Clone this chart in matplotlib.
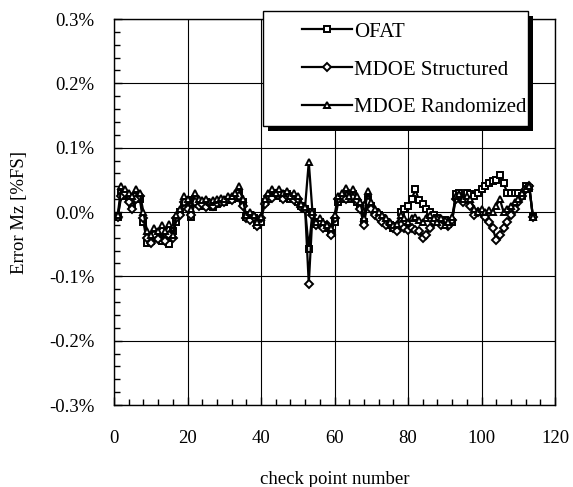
import numpy as np
import matplotlib.pyplot as plt
from matplotlib.patches import Rectangle

plt.rcParams['font.family'] = ['Liberation Serif', 'DejaVu Serif']

# error at each check point, in %FS
check_point = np.arange(1, 115)

ofat = [
    -0.008, 0.030, 0.025, 0.020, 0.010, 0.025, 0.020, -0.015, -0.048, -0.045,
    -0.040, -0.038, -0.045, -0.035, -0.050, -0.030, -0.015, 0.000, 0.010, 0.018,
    -0.008, 0.020, 0.012, 0.010, 0.015, 0.010, 0.008, 0.012, 0.015, 0.016,
    0.018, 0.020, 0.022, 0.030, 0.015, -0.008, -0.005, -0.010, -0.020, -0.015,
    0.015, 0.020, 0.025, 0.030, 0.025, 0.022, 0.028, 0.020, 0.022, 0.015,
    0.010, 0.005, -0.057, 0.000, -0.018, -0.015, -0.020, -0.025, -0.032, -0.015,
    0.015, 0.020, 0.025, 0.020, 0.028, 0.015, 0.010, -0.015, 0.020, 0.010,
    0.000, -0.005, -0.010, -0.015, -0.020, -0.025, -0.022, 0.000, 0.005, 0.010,
    0.020, 0.035, 0.018, 0.012, 0.005, 0.000, -0.005, -0.010, -0.015, -0.012,
    -0.018, -0.015, 0.028, 0.030, 0.022, 0.030, 0.028, 0.025, 0.030, 0.035,
    0.040, 0.045, 0.048, 0.050, 0.057, 0.045, 0.030, 0.030, 0.030, 0.030,
    0.025, 0.040, 0.038, -0.008,
]

mdoe_structured = [
    -0.008, 0.025, 0.030, 0.015, 0.005, 0.020, 0.025, -0.010, -0.040, -0.048,
    -0.035, -0.042, -0.030, -0.045, -0.035, -0.040, -0.010, -0.005, 0.015, 0.005,
    -0.005, 0.015, 0.010, 0.012, 0.008, 0.012, 0.010, 0.014, 0.016, 0.015,
    0.020, 0.018, 0.025, 0.025, 0.010, -0.010, -0.012, -0.008, -0.022, -0.010,
    0.012, 0.025, 0.022, 0.028, 0.030, 0.020, 0.025, 0.025, 0.018, 0.020,
    0.008, 0.005, -0.112, -0.005, -0.020, -0.018, -0.025, -0.020, -0.035, -0.010,
    0.020, 0.025, 0.020, 0.028, 0.022, 0.018, 0.005, -0.020, 0.015, 0.005,
    -0.005, -0.010, -0.015, -0.020, -0.018, -0.025, -0.030, -0.020, -0.025, -0.028,
    -0.025, -0.028, -0.030, -0.040, -0.035, -0.025, -0.015, -0.012, -0.020, -0.015,
    -0.022, -0.012, 0.020, 0.025, 0.015, 0.020, 0.010, -0.005, 0.000, -0.002,
    -0.008, -0.015, -0.025, -0.043, -0.035, -0.025, -0.015, -0.005, 0.005, 0.015,
    0.025, 0.035, 0.040, -0.008,
]

mdoe_randomized = [
    -0.005, 0.040, 0.035, 0.030, 0.025, 0.036, 0.030, 0.000, -0.030, -0.035,
    -0.025, -0.030, -0.020, -0.030, -0.018, -0.035, -0.005, 0.005, 0.025, 0.020,
    0.005, 0.030, 0.020, 0.018, 0.020, 0.015, 0.018, 0.020, 0.022, 0.020,
    0.025, 0.025, 0.030, 0.040, 0.020, -0.005, 0.000, -0.005, -0.015, -0.008,
    0.020, 0.030, 0.035, 0.030, 0.035, 0.030, 0.033, 0.025, 0.030, 0.025,
    0.012, 0.008, 0.078, 0.000, -0.015, -0.010, -0.015, -0.020, -0.025, -0.005,
    0.025, 0.030, 0.038, 0.025, 0.036, 0.025, 0.015, -0.010, 0.033, 0.015,
    0.005, 0.000, -0.005, -0.010, -0.015, -0.020, -0.018, -0.005, -0.010, -0.015,
    -0.010, -0.008, -0.012, -0.015, -0.010, -0.005, -0.010, -0.015, -0.010, -0.020,
    -0.015, -0.008, 0.025, 0.028, 0.020, 0.025, 0.020, 0.005, 0.000, 0.005,
    0.000, 0.003, 0.000, 0.010, 0.020, 0.000, 0.005, 0.010, 0.015, 0.020,
    0.030, 0.035, 0.040, -0.008,
]

series_names = ['OFAT', 'MDOE Structured', 'MDOE Randomized']
series_markers = ['s', 'D', '^']
series_sizes = [5, 3.6, 4.8]

y_ticks = [-0.3, -0.2, -0.1, 0.0, 0.1, 0.2, 0.3]
y_tick_labels = ['-0.3%', '-0.2%', '-0.1%', '0.0%', '0.1%', '0.2%', '0.3%']
x_ticks = [0, 20, 40, 60, 80, 100, 120]

W, H = 573, 487
fig = plt.figure(figsize=(W / 100, H / 100), dpi=100)
ax = fig.add_axes([114/W, 82/H, 441/W, 386/H])

handles = []
for values, name, mk, ms in zip([ofat, mdoe_structured, mdoe_randomized],
                                series_names, series_markers, series_sizes):
    ln, = ax.plot(check_point, values, color='k', lw=1.6, marker=mk, ms=ms,
                  mfc='white', mec='k', mew=1.4, label=name, zorder=3)
    handles.append(ln)

ax.set_xlim(0, 120)
ax.set_ylim(-0.3, 0.3)
ax.set_xticks(x_ticks)
ax.set_xticklabels([str(t) for t in x_ticks])
ax.set_yticks(y_ticks)
ax.set_yticklabels(y_tick_labels)
ax.set_xticks(np.arange(0, 121, 4), minor=True)
ax.set_yticks(np.arange(-0.3, 0.301, 0.02), minor=True)
ax.tick_params(which='both', direction='in', labelsize=13.5, color='k')
ax.tick_params(which='major', length=6, width=1)
ax.tick_params(which='minor', length=4, width=1)
ax.tick_params(axis='x', which='major', pad=18)
ax.tick_params(axis='y', which='major', pad=14)
ax.grid(True, which='major', color='k', lw=0.8)
for sp in ax.spines.values():
    sp.set_linewidth(1)
    sp.set_color('k')

ax.set_xlabel('check point number', fontsize=13.5, labelpad=17)
ax.set_ylabel('Error Mz [%FS]', fontsize=13.5, labelpad=15)

# legend box with a solid drop shadow, drawn as plain rectangles
box_x0, box_x1 = 263, 528
box_top, box_bot = 11, 126
fig.add_artist(Rectangle(((box_x0 + 5) / W, 1 - (box_bot + 5) / H),
                         (box_x1 - box_x0) / W, (box_bot - box_top) / H,
                         transform=fig.transFigure, facecolor='k',
                         edgecolor='none', zorder=8))
fig.add_artist(Rectangle((box_x0 / W, 1 - box_bot / H),
                         (box_x1 - box_x0) / W, (box_bot - box_top) / H,
                         transform=fig.transFigure, facecolor='white',
                         edgecolor='k', lw=1, zorder=9))

leg = fig.legend(handles=handles, labels=series_names, loc='upper right',
                 bbox_to_anchor=(527/W, 1 - 22/H), borderaxespad=0,
                 frameon=False, fontsize=15, handlelength=2.4,
                 handletextpad=0.1, labelspacing=0.88, borderpad=0)
leg.set_zorder(10)

fig.savefig('out.png', dpi=100)
